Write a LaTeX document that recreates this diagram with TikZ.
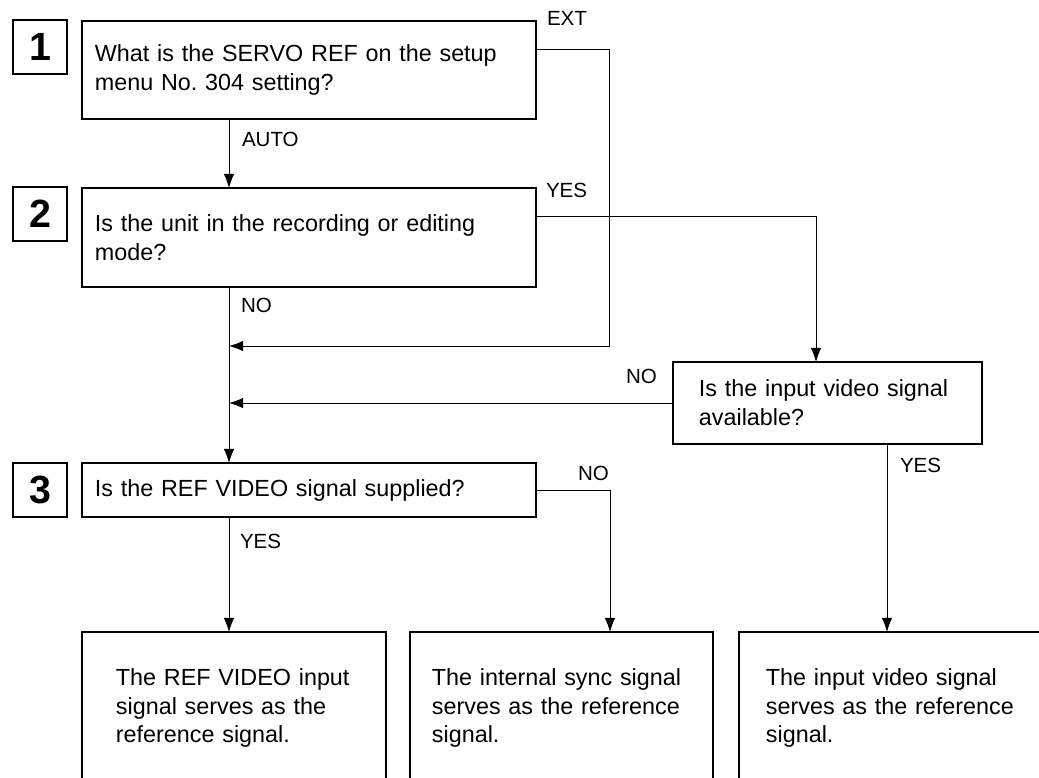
\documentclass[tikz,border=0pt]{standalone}
\usepackage{fontspec}
\setmainfont{Liberation Sans}
\usetikzlibrary{arrows.meta}

\begin{document}
\frenchspacing
\begin{tikzpicture}[x=0.025cm, y=-0.025cm]
\tikzset{ >={Latex[length=10pt,width=7.5pt]}, inner sep=0pt, outer sep=0pt,
  box/.style={draw, line width=1.1pt, align=left, font=\fontsize{16.6}{20.5}\selectfont},
  stepbox/.style={draw, line width=1.1pt, minimum width=1.35cm, minimum height=1.35cm, font=\fontsize{28}{30}\selectfont\bfseries},
  lbl/.style={anchor=base west, font=\fontsize{14.6}{17}\selectfont},
  conn/.style={->, line width=0.7pt},
}
\clip (0,0) rectangle (1039,777);
%\draw [lightgray, dashed](0,0) grid[step=50] (1039,777);

% step numbers
\node [stepbox] (S1) at (40,47)  {1};
\node [stepbox] (S2) at (40,214) {2};
\node [stepbox] (S3) at (40,490) {3};

% questions
\node [box, minimum width=11.35cm, minimum height=2.45cm, text width=10.7cm] (qservo) at (309,70)
  {What is the SERVO REF on the setup\\menu No. 304 setting?};
\node [box, minimum width=11.35cm, minimum height=2.475cm, text width=10.7cm] (qmode) at (309,237.5)
  {Is the unit in the recording or editing\\mode?};
\node [box, minimum width=11.35cm, minimum height=1.35cm, text width=10.7cm] (qsupply) at (309,490)
  {Is the REF VIDEO signal supplied?};
\node [box, minimum width=7.725cm, minimum height=2.05cm, text width=6.425cm] (qinput) at (827.5,403)
  {Is the input video signal\\available?};

% results (open at the bottom edge)
\node [box, minimum width=7.6cm, minimum height=3.8cm, text width=5.9cm] (rvideo) at (234,708)
  {The REF VIDEO input\\signal serves as the\\reference signal.};
\node [box, minimum width=7.575cm, minimum height=3.8cm, text width=6.475cm] (rsync) at (561.5,708)
  {The internal sync signal\\serves as the reference\\signal.};
\node [box, minimum width=8.025cm, minimum height=3.8cm, text width=6.675cm] (rinput) at (899.5,708)
  {The input video signal\\serves as the reference\\signal.};

\coordinate (trunk)   at (229,0);
\coordinate (ext)     at (609,49);
\coordinate (extback) at (609,346);
\coordinate (yesbend) at (816,216);
\coordinate (nobend)  at (610,490);
\coordinate (yescol)  at (887,0);

\draw [conn] (qservo.south -| trunk) -- (qmode.north -| trunk);
\draw [conn] (qmode.south -| trunk)  -- (qsupply.north -| trunk);
\draw [conn] (qsupply.south -| trunk) -- (rvideo.north -| trunk);

\draw [conn] (qservo.east |- ext) -- (ext) -- (extback) -- (extback -| trunk);
\draw [conn] (qmode.east |- yesbend) -- (yesbend) -- (qinput.north -| yesbend);
\draw [conn] (qinput.west) -- (qinput.west -| trunk);
\draw [conn] (qsupply.east) -- (nobend) -- (rsync.north -| nobend);
\draw [conn] (qinput.south -| yescol) -- (rinput.north -| yescol);

\node [lbl] (lext)   at (547,25)  {EXT};
\node [lbl] (lauto)  at (242,146) {AUTO};
\node [lbl] (lyes1)  at (546,197) {YES};
\node [lbl] (lno1)   at (241,312) {NO};
\node [lbl] (lno2)   at (626,383) {NO};
\node [lbl] (lyes2)  at (900,472) {YES};
\node [lbl] (lno3)   at (578,480) {NO};
\node [lbl] (lyes3)  at (240,548) {YES};

\end{tikzpicture}
\end{document}
